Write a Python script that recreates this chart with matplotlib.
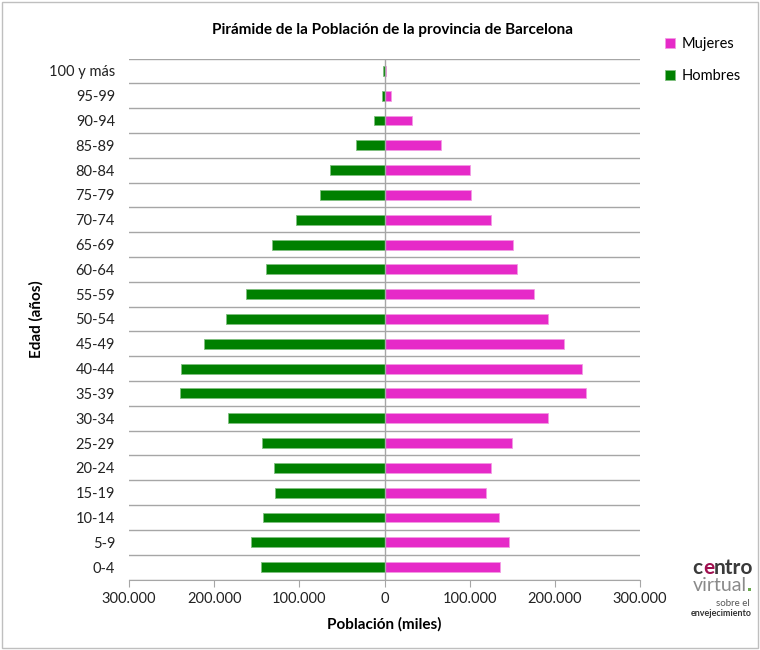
import numpy as np
import matplotlib.pyplot as plt
from matplotlib.ticker import FuncFormatter
from matplotlib.patches import Rectangle

# Age groups, top to bottom as in the picture
edades = ['100 y más', '95-99', '90-94', '85-89', '80-84', '75-79', '70-74',
          '65-69', '60-64', '55-59', '50-54', '45-49', '40-44', '35-39',
          '30-34', '25-29', '20-24', '15-19', '10-14', '5-9', '0-4']
hombres = [1500, 2500, 12000, 34000, 64000, 76000, 104000,
           132000, 139500, 163000, 186500, 212500, 239000, 240500,
           184000, 144000, 129500, 128500, 143000, 157000, 145000]
mujeres = [2000, 8000, 32000, 66500, 100500, 101500, 124500,
           150500, 155000, 175500, 192000, 210500, 232000, 236500,
           192000, 149500, 125500, 119000, 134000, 146000, 135500]

verde = '#008000'
rosa = '#E62AC8'
gris = '#A6A6A6'
plt.rcParams['font.family'] = ['Lato', 'DejaVu Sans']

fig = plt.figure(figsize=(7.6, 6.5), dpi=100)
ax = fig.add_axes([129 / 760, 1 - 579.5 / 650, 511 / 760, 521 / 650])

y = np.arange(len(edades))[::-1]
ax.barh(y, -np.array(hombres), height=0.4, color=verde, edgecolor='#7fbf7f',
        linewidth=0.6, label='Hombres', zorder=3)
ax.barh(y, mujeres, height=0.4, color=rosa, edgecolor='#f39ae3',
        linewidth=0.6, label='Mujeres', zorder=3)

ax.set_xlim(-300000, 300000)
ax.set_ylim(-0.5, len(edades) - 0.5)
ax.set_yticks(y)
ax.set_yticklabels(edades, fontsize=10.5, color='#222222')
ax.set_xticks(np.arange(-300000, 300001, 100000))
ax.xaxis.set_major_formatter(FuncFormatter(
    lambda v, p: f'{abs(int(v)):,}'.replace(',', '.')))
ax.tick_params(axis='x', labelsize=10.5, colors='#222222', length=5,
               color=gris, direction='out', pad=4)
ax.tick_params(axis='y', length=0, pad=10)

# horizontal gridlines at category edges
for b in np.arange(-0.5, len(edades), 1.0):
    ax.axhline(b, color=gris, linewidth=1.0, zorder=1)
ax.axvline(0, color=gris, linewidth=1.0, zorder=4)

for s in ['top', 'right', 'left']:
    ax.spines[s].set_visible(False)
ax.spines['bottom'].set_color(gris)

ax.set_xlabel('Población (miles)', fontsize=11, fontweight='bold', labelpad=8)
ax.set_ylabel('Edad (años)', fontsize=11, fontweight='bold', labelpad=4)
fig.text(393 / 760, 1 - 30 / 650, 'Pirámide de la Población de la provincia de Barcelona',
         ha='center', va='center', fontsize=11, fontweight='bold')

handles, labels = ax.get_legend_handles_labels()
fig.legend(handles[::-1], labels[::-1], loc='upper left',
           bbox_to_anchor=(652 / 760, 1 - 24 / 650), frameon=False,
           fontsize=10.5, handlelength=0.7, handleheight=0.7,
           handletextpad=0.4, labelspacing=1.25)

# logo text
fig.text(692 / 760, 1 - 574 / 650, 'c', fontsize=15, fontweight='bold', color='#3a3a3a', ha='left', va='baseline')
fig.text(703 / 760, 1 - 574 / 650, 'e', fontsize=15, fontweight='bold', color='#a01050', ha='left', va='baseline')
fig.text(714 / 760, 1 - 574 / 650, 'ntro', fontsize=15, fontweight='bold', color='#3a3a3a', ha='left', va='baseline')
fig.text(693 / 760, 1 - 591 / 650, 'virtual', fontsize=14, color='#8a8a8a', ha='left', va='baseline')
fig.patches.append(Rectangle((748 / 760, 1 - 591 / 650), 3 / 760, 3 / 650, transform=fig.transFigure,
                             facecolor='#6aa84f', edgecolor='none'))
fig.text(750 / 760, 1 - 604 / 650, 'sobre el', fontsize=7, color='#555555', ha='right', va='center')
fig.text(752 / 760, 1 - 614 / 650, 'envejecimiento', fontsize=6.5, fontweight='bold', color='#333333', ha='right', va='center')

fig.patches.append(Rectangle((2 / 760, 2 / 650), 756 / 760, 646 / 650, transform=fig.transFigure,
                             fill=False, edgecolor='#bfbfbf', linewidth=1))

fig.savefig('out.png', dpi=100)
